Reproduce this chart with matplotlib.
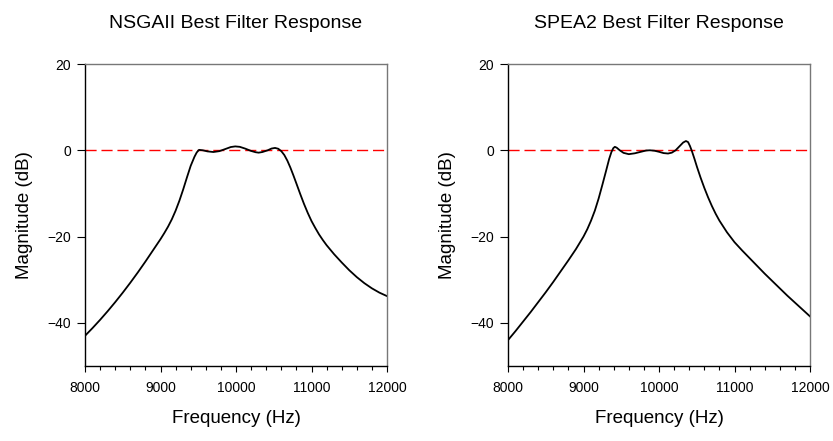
import matplotlib
matplotlib.use('Agg')
import matplotlib.pyplot as plt
from matplotlib.ticker import MultipleLocator

plt.rcParams['font.family'] = ['Liberation Sans', 'DejaVu Sans']

# NSGAII: frequência (Hz) x magnitude (dB)
freq_nsga = [8000, 8100, 8200, 8300, 8400, 8500, 8600, 8700, 8800, 8900,
             9000, 9050, 9100, 9150, 9200, 9250, 9300, 9350, 9400, 9450, 9480,
             9510, 9560, 9620, 9700, 9780, 9860, 9930, 9990, 10050, 10120,
             10200, 10260, 10300, 10350, 10420, 10470, 10517, 10560, 10600, 10640,
             10680, 10720, 10760, 10800, 10850, 10900, 10950, 11000, 11050, 11100,
             11150, 11200, 11300, 11400, 11500, 11600, 11700, 11800, 11900, 12000]
mag_nsga = [-43.0, -41.2, -39.3, -37.3, -35.2, -33.0, -30.7, -28.3, -25.8, -23.2,
            -20.6, -19.2, -17.7, -16.0, -14.0, -11.7, -9.1, -6.3, -3.6, -1.5, -0.5,
            0.1, 0.0, -0.25, -0.4, -0.2, 0.3, 0.75, 0.9, 0.8, 0.4,
            -0.15, -0.45, -0.55, -0.4, 0.0, 0.4, 0.55, 0.35, -0.2, -1.1,
            -2.4, -4.0, -5.8, -7.7, -10.1, -12.4, -14.5, -16.4, -18.0, -19.5,
            -20.8, -22.0, -24.1, -26.0, -27.8, -29.4, -30.8, -32.0, -33.0, -33.8]

# SPEA2
freq_spea = [8000, 8100, 8200, 8300, 8400, 8500, 8600, 8700, 8800, 8900,
             9000, 9050, 9100, 9150, 9200, 9250, 9300, 9340, 9370, 9395,
             9415, 9440, 9480, 9530, 9600, 9680, 9760, 9830, 9880, 9940,
             10000, 10060, 10120, 10170, 10220, 10270, 10320, 10357, 10385, 10410,
             10436, 10470, 10503, 10550, 10600, 10650, 10700, 10750, 10800, 10900,
             11000, 11100, 11200, 11300, 11400, 11500, 11600, 11700, 11800, 11900, 12000]
mag_spea = [-44.0, -41.9, -39.7, -37.5, -35.2, -32.9, -30.5, -28.0, -25.5, -22.9,
            -20.0, -18.3, -16.3, -14.0, -11.2, -8.0, -4.7, -2.0, -0.4, 0.5,
            0.8, 0.6, 0.0, -0.6, -0.9, -0.7, -0.35, -0.05, 0.0, -0.1,
            -0.35, -0.65, -0.75, -0.55, 0.0, 0.9, 1.8, 2.15, 1.9, 1.0,
            -0.2, -2.0, -3.85, -6.3, -8.7, -10.9, -12.9, -14.7, -16.3, -19.0,
            -21.3, -23.2, -25.0, -26.8, -28.6, -30.3, -32.0, -33.7, -35.3, -36.9, -38.5]

titulos = ['NSGAII Best Filter Response', 'SPEA2 Best Filter Response']
dados = [(freq_nsga, mag_nsga), (freq_spea, mag_spea)]

fig = plt.figure(figsize=(8.33, 4.41), dpi=100)
posicoes = [[85/833, 75/441, 302/833, 302/441],
            [508/833, 75/441, 302/833, 302/441]]

for pos, titulo, (f, m) in zip(posicoes, titulos, dados):
    ax = fig.add_axes(pos)
    ax.axhline(0, color='#ff0000', lw=1.0, dashes=(8, 3.5), zorder=1)
    ax.plot(f, m, color='black', lw=1.3, zorder=2)
    ax.set_xlim(8000, 12000)
    ax.set_ylim(-50, 20)
    ax.set_xticks([8000, 9000, 10000, 11000, 12000])
    ax.xaxis.set_minor_locator(MultipleLocator(200))
    ax.set_yticks([-40, -20, 0, 20])
    ax.tick_params(axis='y', direction='out', length=6, width=0.8, pad=4, labelsize=10)
    ax.tick_params(axis='x', which='major', direction='out', length=4.5, width=0.8,
                   pad=6, labelsize=10)
    ax.tick_params(axis='x', which='minor', direction='out', length=3, width=0.8)
    for lado in ['top', 'right']:
        ax.spines[lado].set_color('#777777')
    for lado in ['left', 'bottom']:
        ax.spines[lado].set_color('black')
    for s in ax.spines.values():
        s.set_linewidth(1.0)
    ax.set_xlabel('Frequency (Hz)', fontsize=13.5, labelpad=11)
    ax.set_ylabel('Magnitude (dB)', fontsize=13.5, labelpad=10)
    ax.set_title(titulo, fontsize=14, pad=26)

fig.savefig('out.png', dpi=100)
